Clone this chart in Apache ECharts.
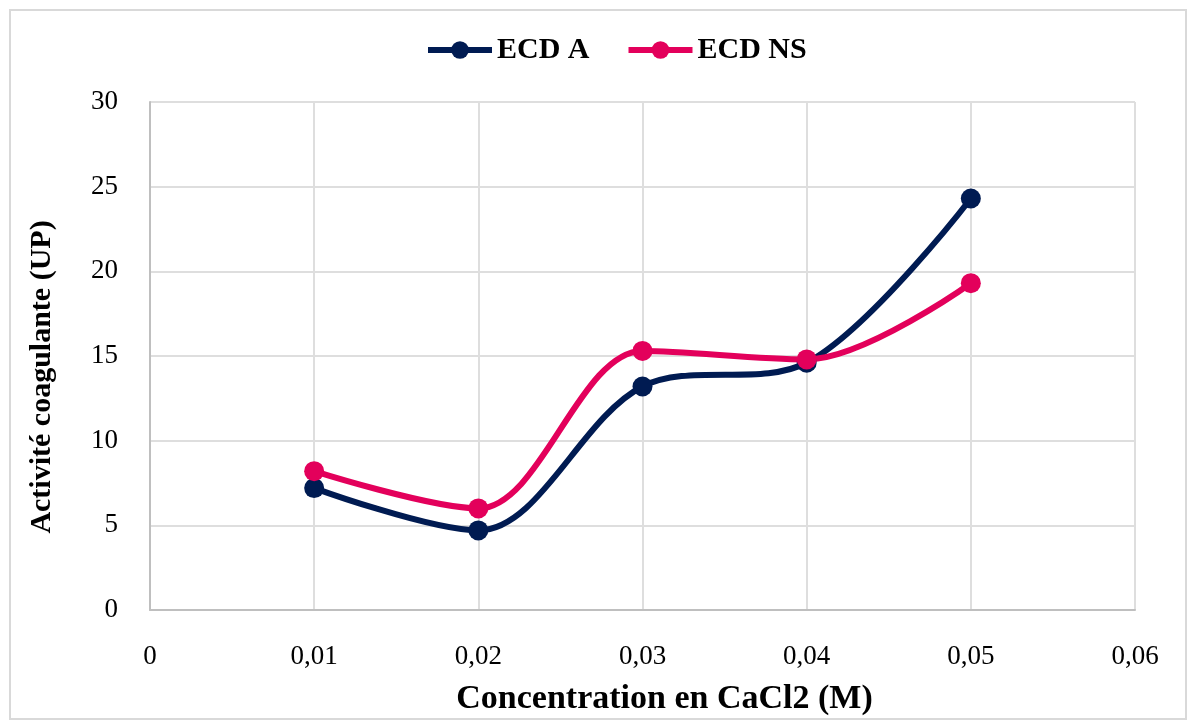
<!DOCTYPE html>
<html>
<head>
<meta charset="utf-8">
<script src="https://cdn.jsdelivr.net/npm/echarts@6/dist/echarts.min.js"></script>
<style>
  html, body { margin: 0; padding: 0; background: #fff; }
  #main { width: 1188px; height: 721px; }
</style>
</head>
<body>
<div id="main"></div>
<script>
// données
const concentrations = [0.01, 0.02, 0.03, 0.04, 0.05]
const ecdA = [7.2, 4.7, 13.2, 14.6, 24.3]
const ecdNS = [8.2, 6.0, 15.3, 14.8, 19.3]
const seriesNames = ['ECD A', 'ECD NS']

const serif = '"Liberation Serif", "DejaVu Serif", serif'
const navy = '#001b52'
const pink = '#e3005b'
const chart = echarts.init(document.getElementById('main'))

const toPairs = (vals) => concentrations.map((c, i) => [c, vals[i]])

const options = {
  animation: false,
  // cadre gris autour du graphique
  graphic: [{
    type: 'rect',
    shape: { x: 10, y: 10, width: 1176, height: 709 },
    style: { fill: 'none', stroke: '#d9d9d9', lineWidth: 2 },
    silent: true,
  }],
  grid: { left: 150, right: 53, top: 102, bottom: 109 },
  legend: {
    top: 30,
    left: 420,
    itemWidth: 64,
    itemHeight: 22,
    itemGap: 36,
    data: seriesNames,
    lineStyle: { width: 6 },
    textStyle: { fontFamily: serif, fontSize: 30, fontWeight: 'bold', color: '#000' },
  },
  xAxis: {
    type: 'value',
    min: 0,
    max: 0.06,
    interval: 0.01,
    name: 'Concentration en CaCl2 (M)',
    nameLocation: 'middle',
    nameGap: 72,
    nameTextStyle: { fontFamily: serif, fontSize: 34, fontWeight: 'bold', color: '#000', padding: [0, 0, 0, 44] },
    axisLine: { lineStyle: { color: '#bfbfbf', width: 2 } },
    axisTick: { show: false },
    axisLabel: {
      margin: 33,
      fontFamily: serif,
      fontSize: 27,
      color: '#000',
      formatter: (v) => (Math.round(v * 100) / 100).toString().replace('.', ','),
    },
    splitLine: { show: true, lineStyle: { color: '#dedede', width: 2 } },
  },
  yAxis: {
    type: 'value',
    min: 0,
    max: 30,
    interval: 5,
    name: 'Activité coagulante (UP)',
    nameLocation: 'middle',
    nameGap: 93,
    nameTextStyle: { fontFamily: serif, fontSize: 30, fontWeight: 'bold', color: '#000', padding: [0, 42, 0, 0] },
    axisLine: { show: true, lineStyle: { color: '#bfbfbf', width: 2 } },
    axisTick: { show: false },
    axisLabel: { margin: 32, fontFamily: serif, fontSize: 27, color: '#000' },
    splitLine: { show: true, lineStyle: { color: '#dedede', width: 2 } },
  },
  series: [
    {
      name: seriesNames[0],
      type: 'line',
      smooth: 0.33,
      data: toPairs(ecdA),
      symbol: 'circle',
      symbolSize: 20,
      lineStyle: { width: 6, color: navy },
      itemStyle: { color: navy },
    },
    {
      name: seriesNames[1],
      type: 'line',
      smooth: 0.33,
      data: toPairs(ecdNS),
      symbol: 'circle',
      symbolSize: 20,
      lineStyle: { width: 6, color: pink },
      itemStyle: { color: pink },
    },
  ],
}

chart.setOption(options)
</script>
</body>
</html>
